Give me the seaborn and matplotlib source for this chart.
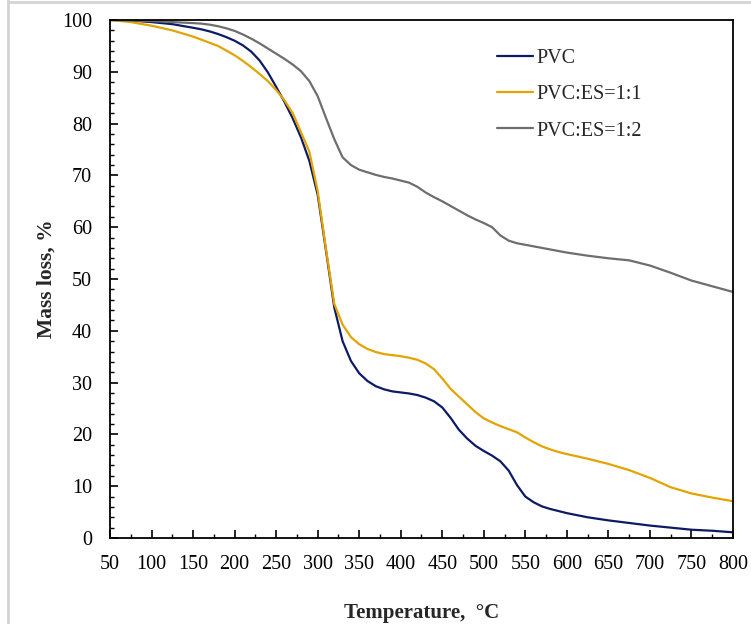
import pandas as pd
import seaborn as sns
import matplotlib.pyplot as plt
from matplotlib.lines import Line2D
from matplotlib.ticker import MultipleLocator

# temperature grid (degC)
temperature = [50, 75, 100, 125,
               150, 160, 170, 180, 190, 200, 210, 220, 230, 240,
               250, 260, 270, 280, 290, 300, 310, 320, 330, 340,
               350, 360, 370, 380, 390, 400, 410, 420, 430, 440,
               450, 460, 470, 480, 490, 500, 510, 520, 530, 540,
               550, 560, 570, 580, 590, 600,
               625, 650, 675, 700, 725, 750, 775, 800]

pvc = [100, 99.9, 99.6, 99.2,
       98.5, 98.2, 97.8, 97.3, 96.7, 96.0, 95.1, 93.9, 92.2, 89.9,
       87.1, 84.2, 81.0, 77.3, 72.8, 66.3, 55.5, 44.5, 38.0, 34.2,
       31.8, 30.3, 29.3, 28.7, 28.3, 28.1, 27.9, 27.6, 27.1, 26.4,
       25.2, 23.2, 20.9, 19.2, 17.8, 16.8, 15.9, 14.8, 13.0, 10.2,
       8.0, 6.9, 6.1, 5.6, 5.2, 4.8,
       4.0, 3.4, 2.9, 2.4, 2.0, 1.6, 1.4, 1.1]

pvc_es_11 = [100, 99.6, 98.9, 98.0,
             96.8, 96.2, 95.6, 95.0, 94.1, 93.2, 92.1, 90.9, 89.6, 88.2,
             86.5, 84.5, 82.0, 78.3, 74.6, 67.0, 55.8, 45.2, 41.2, 38.8,
             37.4, 36.5, 35.9, 35.5, 35.3, 35.1, 34.8, 34.4, 33.7, 32.6,
             30.8, 28.8, 27.3, 25.8, 24.3, 23.1, 22.3, 21.6, 21.0, 20.4,
             19.4, 18.5, 17.7, 17.1, 16.6, 16.2,
             15.3, 14.3, 13.1, 11.6, 9.8, 8.6, 7.8, 7.1]

pvc_es_12 = [100, 99.9, 99.8, 99.6,
             99.4, 99.3, 99.1, 98.8, 98.4, 97.9, 97.2, 96.4, 95.5, 94.5,
             93.5, 92.5, 91.4, 90.1, 88.2, 85.3, 81.1, 77.0, 73.5, 72.0,
             71.1, 70.6, 70.1, 69.7, 69.4, 69.0, 68.6, 67.8, 66.7, 65.8,
             65.0, 64.1, 63.2, 62.3, 61.5, 60.8, 60.0, 58.4, 57.4, 56.9,
             56.6, 56.3, 56.0, 55.7, 55.4, 55.1,
             54.5, 54.0, 53.6, 52.6, 51.2, 49.7, 48.6, 47.5]

labels = ["PVC", "PVC:ES=1:1", "PVC:ES=1:2"]
colors = ["#0c1b64", "#e3a400", "#6e6e6e"]

df = pd.concat([
    pd.DataFrame({"T": temperature, "mass": vals, "sample": lab})
    for vals, lab in zip([pvc, pvc_es_11, pvc_es_12], labels)
])

sns.set_theme(style="ticks")
plt.rcParams['font.family'] = ['Liberation Serif', 'DejaVu Serif']

fig = plt.figure(figsize=(7.51, 6.24), dpi=100)
ax = fig.add_axes([110/751, 1-538/624, 623/751, 518/624])

sns.lineplot(data=df, x="T", y="mass", hue="sample", palette=dict(zip(labels, colors)),
             linewidth=1.6, ax=ax, sort=False)

ax.set_xlim(50, 800)
ax.set_ylim(0, 100)
ax.xaxis.set_major_locator(MultipleLocator(50))
ax.xaxis.set_minor_locator(MultipleLocator(25))
ax.yaxis.set_major_locator(MultipleLocator(10))
ax.yaxis.set_minor_locator(MultipleLocator(2))
ax.tick_params(which="both", direction="in", colors="black", labelsize=14.5)
ax.tick_params(which="major", length=5.5, width=1.2)
ax.tick_params(which="minor", length=3, width=1.0)
ax.tick_params(axis="x", which="major", pad=12)
ax.tick_params(axis="y", which="major", pad=13)
for s in ax.spines.values():
    s.set_color("black")
    s.set_linewidth(1.3)

ax.set_xlabel("Temperature,  °C", fontsize=15, fontweight="bold", labelpad=21)
ax.set_ylabel("Mass loss, %", fontsize=15.5, fontweight="bold", labelpad=4)

ax.legend(loc="upper left", bbox_to_anchor=(0.621, 0.944), frameon=False,
          fontsize=14.5, handlelength=1.8, handletextpad=0.15, labelspacing=0.85,
          borderaxespad=0, borderpad=0)

# light frame of the original image
fig.add_artist(Line2D([8/751, 8/751], [0, 1], transform=fig.transFigure, color="#d4d4d4", lw=2))
fig.add_artist(Line2D([8/751, 1], [1-1.5/624, 1-1.5/624], transform=fig.transFigure, color="#d4d4d4", lw=2))

plt.savefig("out.png", dpi=100)
